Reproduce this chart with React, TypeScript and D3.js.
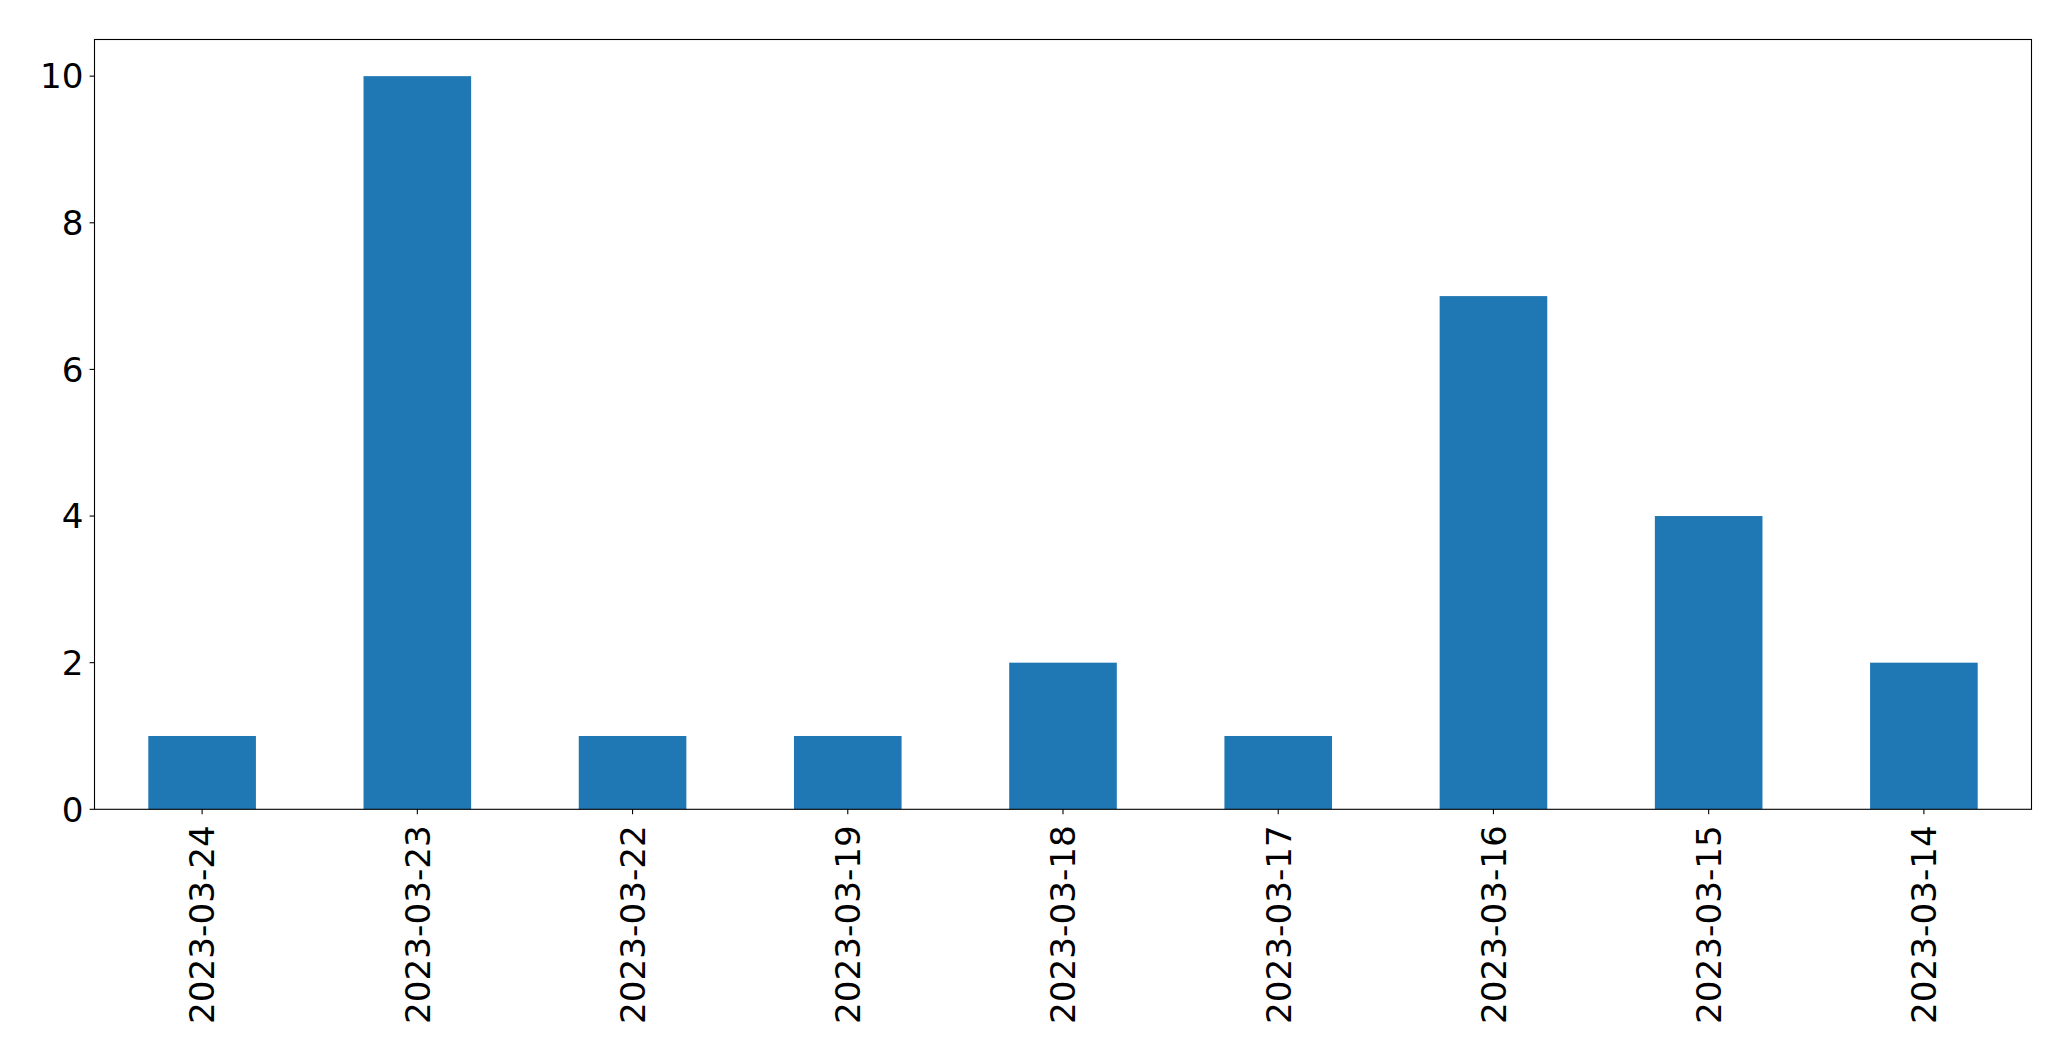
import React from "react";
import * as d3 from "d3";

const categories = ["2023-03-24", "2023-03-23", "2023-03-22", "2023-03-19", "2023-03-18", "2023-03-17", "2023-03-16", "2023-03-15", "2023-03-14"];
const values = [1, 10, 1, 1, 2, 1, 7, 4, 2];
const yTicks = [0, 2, 4, 6, 8, 10];

const W = 2071;
const H = 1061;
const M = { left: 94.5, right: 2031.5, top: 39.5, bottom: 809.3 };
const FONT = "DejaVu Sans, sans-serif";
const FS = 34.2;

export default function App() {
  const x = d3.scaleBand<string>().domain(categories).range([M.left, M.right]).paddingInner(0.5).paddingOuter(0.25);
  const y = d3.scaleLinear().domain([0, 10.5]).range([M.bottom, M.top]);
  const tickLen = 4.9;
  return (
    <svg width={W} height={H} style={{ position: "absolute", left: 0, top: 0, background: "#fff" }}>
      <rect x={0} y={0} width={W} height={H} fill="#fff" />
      {categories.map((c, i) => (
        <rect key={c} x={x(c)!} y={y(values[i])} width={x.bandwidth()} height={y(0) - y(values[i])} fill="#1f77b4" />
      ))}
      <rect x={M.left} y={M.top} width={M.right - M.left} height={M.bottom - M.top} fill="none" stroke="#000" strokeWidth={1.1} />
      {yTicks.map((t) => (
        <g key={t}>
          <line x1={M.left - tickLen} x2={M.left} y1={y(t)} y2={y(t)} stroke="#000" strokeWidth={1.1} />
          <text x={M.left - tickLen - 6} y={y(t)} dy="0.36em" textAnchor="end" fontFamily={FONT} fontSize={FS} fill="#000">{t}</text>
        </g>
      ))}
      {categories.map((c) => {
        const cx = x(c)! + x.bandwidth() / 2;
        return (
          <g key={c}>
            <line x1={cx} x2={cx} y1={M.bottom} y2={M.bottom + tickLen} stroke="#000" strokeWidth={1.1} />
            <text transform={`translate(${cx},${M.bottom + tickLen + 11}) rotate(-90)`} dy="0.36em" textAnchor="end" fontFamily={FONT} fontSize={FS} fill="#000">{c}</text>
          </g>
        );
      })}
    </svg>
  );
}
